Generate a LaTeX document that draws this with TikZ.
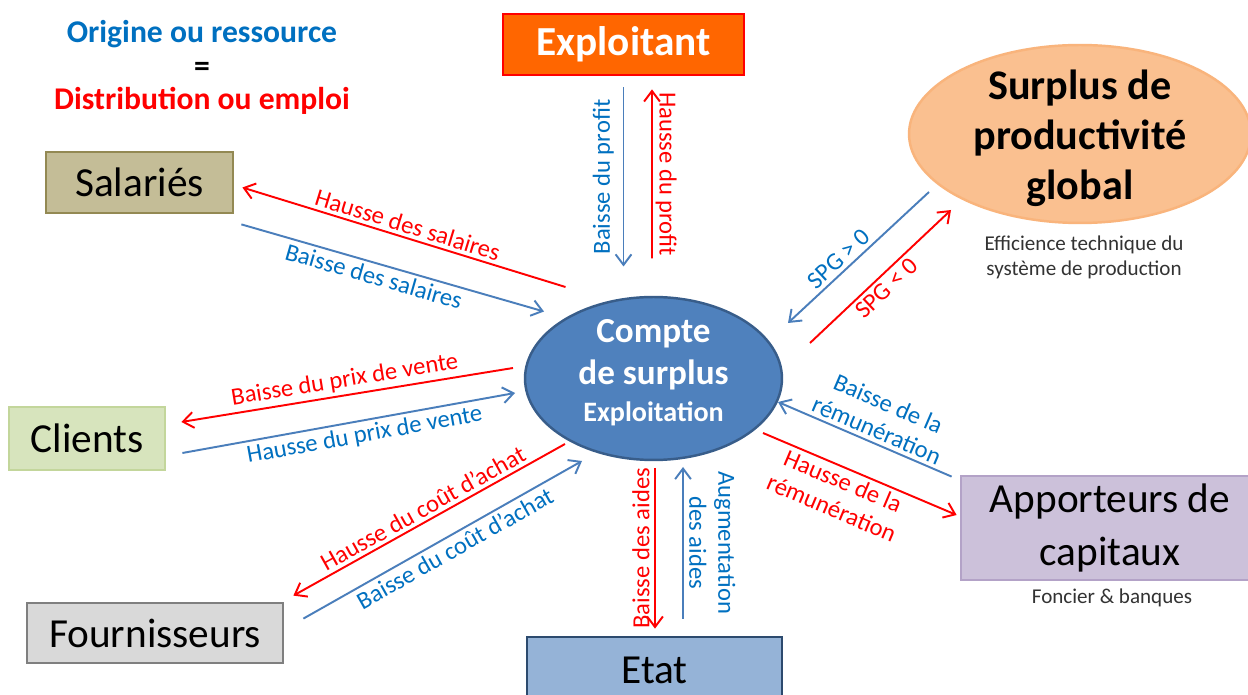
\documentclass[tikz,border=0pt]{standalone}
\usepackage{fontspec}
\setmainfont{Carlito}
\usetikzlibrary{arrows.meta,shapes.geometric}

\definecolor{rouge}{HTML}{FF0000}
\definecolor{bleutxt}{HTML}{0070C0}
\definecolor{bleufl}{HTML}{4A7EBB}
\definecolor{orexp}{HTML}{FF6600}
\definecolor{salfill}{HTML}{C4BD97}
\definecolor{saldraw}{HTML}{938953}
\definecolor{clifill}{HTML}{D7E4BD}
\definecolor{clidraw}{HTML}{C3D69B}
\definecolor{foufill}{HTML}{D9D9D9}
\definecolor{foudraw}{HTML}{7F7F7F}
\definecolor{etafill}{HTML}{95B3D7}
\definecolor{etadraw}{HTML}{2C4A6E}
\definecolor{appfill}{HTML}{CCC1DA}
\definecolor{appdraw}{HTML}{B3A2C7}
\definecolor{spgfill}{HTML}{FAC090}
\definecolor{spgdraw}{HTML}{F9B47C}
\definecolor{cptfill}{HTML}{4F81BD}
\definecolor{cptdraw}{HTML}{385D8A}

\newcommand{\bigfont}{\fontsize{23.5}{29.5}\selectfont}
\newcommand{\labfont}{\fontsize{14}{16.5}\selectfont}

\begin{document}
\begin{tikzpicture}[x=0.02cm, y=-0.02cm,
        box/.style={rectangle, draw, line width=1.6pt, inner sep=2pt, align=center, font=\bigfont},
        rarr/.style={draw=rouge, line width=1.1pt, -{Straight Barb[length=6pt,width=9pt]}},
        barr/.style={draw=bleufl, line width=1.1pt, -{Straight Barb[length=6pt,width=9pt]}},
        rlab/.style={text=rouge, font=\labfont, inner sep=2pt, align=center},
        blab/.style={text=bleutxt, font=\labfont, inner sep=2pt, align=center}
    ]
    \useasboundingbox (0,0) rectangle (1248,695);
    \clip (0,0) rectangle (1248,695);
    \fill[white] (0,0) rectangle (1248,695);

    %--- titre ---
    \node[anchor=base, text=bleutxt, font=\fontsize{18}{22}\selectfont\bfseries] (orig) at (202,43) {Origine ou ressource};
    \node[font=\fontsize{18}{22}\selectfont\bfseries] (egal) at (202,69) {=};
    \node[anchor=base, text=rouge, font=\fontsize{18}{22}\selectfont\bfseries] (dist) at (202,110) {Distribution ou emploi};

    %--- acteurs ---
    \node[box, fill=orexp, draw=rouge, text=white, font=\bigfont\bfseries, minimum width=4.82cm, minimum height=1.22cm] (exp) at (623.5,44.5) {Exploitant};
    \node[box, fill=salfill, draw=saldraw, minimum width=3.74cm, minimum height=1.22cm] (sal) at (139.5,182.5) {Salariés};
    \node[box, fill=clifill, draw=clidraw, minimum width=3.12cm, minimum height=1.26cm] (cli) at (87,438.5) {Clients};
    \node[box, fill=foufill, draw=foudraw, minimum width=5.12cm, minimum height=1.2cm] (fou) at (155,633) {Fournisseurs};
    \node[box, fill=etafill, draw=etadraw, minimum width=5.1cm, minimum height=1.32cm] (eta) at (654.5,670) {Etat};
    \node[box, fill=appfill, draw=appdraw, minimum width=5.96cm, minimum height=2.08cm, font=\fontsize{23.5}{30.5}\selectfont] (app) at (1110,528) {Apporteurs de\\capitaux};
    \node[font=\fontsize{12}{14}\selectfont, text=black!80] (fon) at (1112,598) {Foncier \& banques};

    %--- surplus ---
    \node[ellipse, fill=spgfill, draw=spgdraw, line width=1.4pt, minimum width=6.84cm, minimum height=3.56cm] (spg) at (1080,134) {};
    \node[align=center, font=\fontsize{24}{28.4}\selectfont\bfseries] (spgtxt) at (1080,138) {Surplus de\\productivité\\global};
    \node[font=\fontsize{12}{14.2}\selectfont, text=black!80, align=center] (eff) at (1084,257) {Efficience technique du\\système de production};
    \node[ellipse, fill=cptfill, draw=cptdraw, line width=1.4pt, minimum width=5.14cm, minimum height=3.26cm] (cpt) at (653.5,378.5) {};
    \node[text=white, align=center, font=\fontsize{20}{23.5}\selectfont\bfseries] (cpttxt) at (653.5,373)
          {Compte\\de surplus\\[-2pt]{\fontsize{16}{19}\selectfont Exploitation}};

    %--- flux ---
    \draw[barr] ([shift={(0,11)}]exp.south) -- node[blab, rotate=90, above, inner sep=5pt] {Baisse du profit} ([shift={(-30,-112)}]cpt.center);
    \draw[rarr] ([shift={(-1.5,-120)}]cpt.center) -- node[rlab, rotate=-90, above, inner sep=1.5pt] {Hausse du profit} ([shift={(28.5,13)}]exp.south);

    \draw[rarr] ([shift={(-88,-91.5)}]cpt.center) -- node[rlab, sloped, above] {Hausse des salaires} ([shift={(8,5)}]sal.east);
    \draw[barr] ([shift={(7,10)}]sal.south east) -- node[blab, sloped, below, pos=0.45] {Baisse des salaires} ([shift={(-109.5,-67)}]cpt.center);

    \draw[rarr] ([shift={(-140.5,-10.5)}]cpt.center) -- node[rlab, sloped, above] {Baisse du prix de vente} ([shift={(15,-16.5)}]cli.east);
    \draw[barr] ([shift={(16,14.5)}]cli.east) -- node[blab, sloped, below, pos=0.54] {Hausse du prix de vente} ([shift={(-138.5,14.5)}]cpt.center);

    \draw[rarr] ([shift={(-88.5,65.5)}]cpt.center) -- node[rlab, sloped, above] {Hausse du coût d’achat} ([shift={(9,-6)}]fou.north east);
    \draw[barr] ([shift={(19,17)}]fou.north east) -- node[blab, sloped, below, pos=0.52] {Baisse du coût d’achat} ([shift={(-71.5,82.5)}]cpt.center);

    \draw[rarr] ([shift={(1.5,89.5)}]cpt.center) -- node[rlab, rotate=90, above, inner sep=2.5pt] {Baisse des aides} ([shift={(0.5,-7)}]eta.north);
    \draw[barr] ([shift={(28.5,-17)}]eta.north) -- node[blab, rotate=-90, above, inner sep=3pt] {Augmentation\\des aides} ([shift={(29.5,88.5)}]cpt.center);

    \draw[barr] ([shift={(-151,58)}]spg.center) -- node[blab, sloped, above, pos=0.58] {SPG > 0} ([shift={(134.5,-55.5)}]cpt.center);
    \draw[rarr] ([shift={(156.5,-35.5)}]cpt.center) -- node[rlab, sloped, below, pos=0.48] {SPG < 0} ([shift={(-129,76)}]spg.center);

    \draw[barr] ([shift={(-8,2)}]app.north west) -- node[blab, sloped, above, pos=0.46] {Baisse de la\\rémunération} ([shift={(124.5,23.5)}]cpt.center);
    \draw[rarr] ([shift={(109.5,54.5)}]cpt.center) -- node[rlab, sloped, below, pos=0.44] {Hausse de la\\rémunération} ([shift={(-3,-13)}]app.west);
\end{tikzpicture}
\end{document}
